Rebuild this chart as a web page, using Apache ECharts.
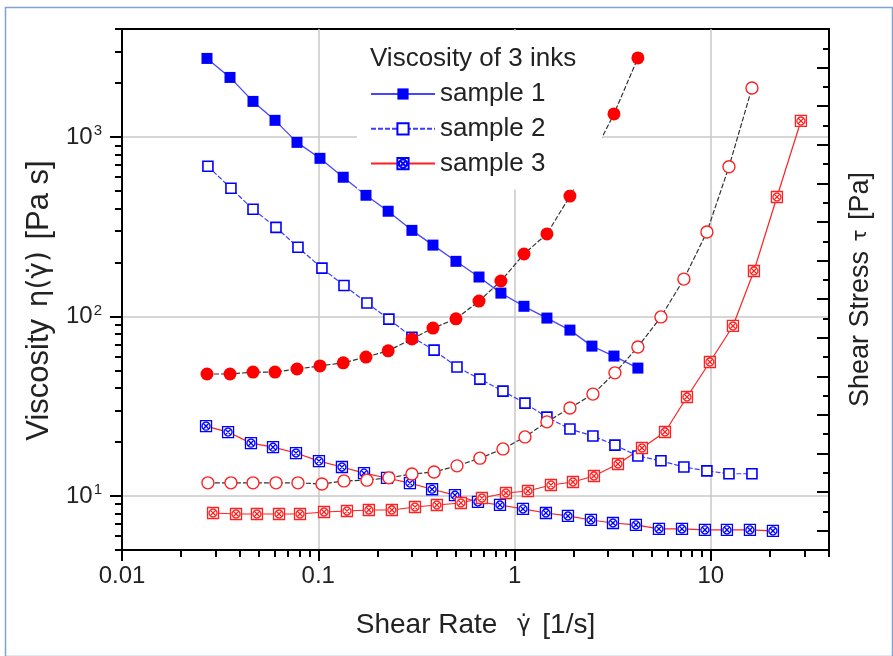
<!DOCTYPE html>
<html><head><meta charset="utf-8">
<script src="https://cdn.jsdelivr.net/npm/echarts@6/dist/echarts.min.js"></script>
<style>html,body{margin:0;padding:0;background:#fff}#c{width:893px;height:656px}</style>
</head><body><div id="c"></div><script>
const FONT = '"Liberation Sans", Arial, sans-serif';

// ---- data ----
const seriesNames = ['sample 1', 'sample 2', 'sample 3'];
const legendTitle = 'Viscosity of 3 inks';

const rate1   = [0.0271,0.0355,0.0465,0.0602,0.0779,0.102,0.134,0.175,0.227,0.300,0.384,0.503,0.659,0.852,1.117,1.462,1.915,2.479,3.21,4.25];
const visc1   = [2742,2149,1580,1239,934,761,597,474,386,302,250,203,166,135,114,98,84,68.4,60.2,51.6];
const stress1 = [456,456,461,461,469,477,485,500,516,547,575,599,645,697,767,819,917,1018,1130,1275];

const rate2   = [0.0274,0.0359,0.0465,0.0609,0.0788,0.1044,0.1352,0.177,0.229,0.300,0.389,0.509,0.666,0.873,1.130,1.462,1.915,2.508,3.247,4.25,5.57,7.29,9.55,12.37,16.2];
const visc2   = [687,518,396,314,243,186,149,119,96.7,76.7,65.0,52.3,44.8,38.4,32.9,27.5,23.6,21.6,19.2,16.7,15.7,14.5,13.8,13.3,13.3];
const stress2 = [174,174,174,174,174,171,179,181,187,197,202,218,238,262,293,332,368,404,459,526,604,702,824,993,1197];

const rate3v  = [0.0268,0.0347,0.0454,0.0588,0.0770,0.1008,0.132,0.171,0.224,0.293,0.380,0.497,0.651,0.843,1.104,1.445,1.871,2.450,3.172,4.153,5.44,7.13,9.33,12.08,15.82,20.72];
const visc3   = [24.5,22.7,19.7,18.7,17.35,15.65,14.5,13.4,12.6,11.8,10.9,10.1,9.26,8.91,8.47,8.04,7.74,7.35,7.07,6.90,6.55,6.55,6.47,6.47,6.47,6.39];
const rate3s  = [0.0291,0.0381,0.0487,0.0631,0.0807,0.107,0.140,0.181,0.237,0.311,0.402,0.533,0.682,0.904,1.170,1.532,1.984,2.538,3.364,4.457,5.84,7.56,9.89,12.96,16.58,21.72,28.77];
const stress3 = [95.9,93.3,93.3,93.3,93.3,98.5,101,103.7,103.7,111.4,116.6,121.8,134.7,147.7,152.9,168.4,176.2,191.8,222.9,264.3,305.8,396.5,487.2,580.5,723,914.7,1111.7];

// ---- ticks ----
const xMajorTicks = [0.01, 0.1, 1, 10];
const xMinorTicks = [0.02,0.03,0.04,0.05,0.06,0.07,0.08,0.09,0.2,0.3,0.4,0.5,0.6,0.7,0.8,0.9,2,3,4,5,6,7,8,9,20,30,40];
const yMajorTicks = [10, 100, 1000];
const yMinorTicks = [5,6,7,8,9,20,30,40,50,60,70,80,90,200,300,400,500,600,700,800,900,2000,3000,4000];
const rMajorTicks = [50,150,250,350,450,550,650,750,850,950,1050,1150,1250,1350];
const rMinorTicks = [100,200,300,400,500,600,700,800,900,1000,1100,1200,1300];

const zip = (a, b) => a.map((v, i) => [v, b[i]]);
const crossSq = 'path://M0,0L10,0L10,10L0,10Z M8.6,5A3.6,3.6,0,1,1,1.4,5A3.6,3.6,0,1,1,8.6,5Z M2.2,2.2L7.8,7.8 M7.8,2.2L2.2,7.8';

const chart = echarts.init(document.getElementById('c'), null, {renderer: 'canvas'});
const axisCol = '#000';
const txtCol = '#222';
const GREEK = '"DejaVu Sans", sans-serif';

chart.setOption({
  animation: false,
  backgroundColor: '#fff',
  textStyle: {fontFamily: FONT},
  graphic: [{
    type: 'rect', left: 3, top: 5, z: 100, silent: true,
    shape: {width: 887, height: 649},
    style: {fill: 'none', stroke: '#7fa2d6', lineWidth: 1.5}
  }],
  title: {
    text: legendTitle, left: 370, top: 46, padding: 0, z: 10,
    textStyle: {fontFamily: FONT, fontSize: 26, fontWeight: 'normal', color: txtCol}
  },
  legend: {
    data: seriesNames, orient: 'vertical', left: 357, top: 31,
    padding: [46, 57, 9, 13], itemWidth: 64, itemHeight: 14, itemGap: 0.8,
    backgroundColor: '#fff',
    textStyle: {fontFamily: FONT, fontSize: 26, lineHeight: 34, color: txtCol}
  },
  grid: {left: 122, right: 64, top: 29, bottom: 106, show: true, borderColor: axisCol, borderWidth: 2, backgroundColor: 'transparent'},
  xAxis: [{
    type: 'log', logBase: 10, min: 0.01, max: 40,
    name: 'Shear Rate  {g|γ̇} [1/s]', nameLocation: 'middle', nameGap: 61,
    nameTextStyle: {fontFamily: FONT, fontSize: 28, color: txtCol, rich: {g: {fontFamily: GREEK, fontSize: 23, color: txtCol, padding: [0, 4, 0, 4]}}},
    axisLine: {lineStyle: {color: axisCol, width: 2}},
    axisTick: {inside: false, length: 11, customValues: xMajorTicks, lineStyle: {color: axisCol, width: 2}},
    axisLabel: {customValues: xMajorTicks, fontFamily: FONT, fontSize: 24, color: txtCol, margin: 14, formatter: v => String(v)},
    splitLine: {show: true, lineStyle: {color: '#c8c8c8', width: 1.5}}
  }, {
    type: 'log', logBase: 10, min: 0.01, max: 40, position: 'bottom',
    axisLine: {show: false},
    axisTick: {inside: false, length: 7, customValues: xMinorTicks, lineStyle: {color: axisCol, width: 2}},
    axisLabel: {show: false}, splitLine: {show: false}
  }],
  yAxis: [{
    type: 'log', logBase: 10, min: 5, max: 4000, position: 'left',
    name: 'Viscosity {g|η(γ̇)} [Pa s]', nameLocation: 'middle', nameGap: 66, nameRotate: 90,
    nameTextStyle: {fontFamily: FONT, fontSize: 31, color: txtCol, padding: [0, 22, 0, 0],
      rich: {g: {fontFamily: GREEK, fontSize: 28, color: txtCol, padding: [0, 3, 0, 3]}}},
    axisLine: {lineStyle: {color: axisCol, width: 2}},
    axisTick: {inside: false, length: 12, customValues: yMajorTicks, lineStyle: {color: axisCol, width: 2}},
    axisLabel: {
      customValues: yMajorTicks, margin: 20, color: txtCol,
      formatter: v => '{b|10}{s|' + Math.round(Math.log10(v)) + '}',
      rich: {b: {fontFamily: FONT, fontSize: 24, color: txtCol}, s: {fontFamily: FONT, fontSize: 15, color: txtCol, verticalAlign: 'bottom', padding: [0, 0, 12, 1]}}
    },
    splitLine: {show: true, lineStyle: {color: '#c8c8c8', width: 1.5}}
  }, {
    type: 'log', logBase: 10, min: 5, max: 4000, position: 'left',
    axisLine: {show: false},
    axisTick: {inside: false, length: 7, customValues: yMinorTicks, lineStyle: {color: axisCol, width: 2}},
    axisLabel: {show: false}, splitLine: {show: false}
  }, {
    type: 'value', min: 0, max: 1350, position: 'right',
    name: 'Shear Stress {t|τ} [Pa]', nameLocation: 'middle', nameGap: 18, nameRotate: 90,
    nameTextStyle: {fontFamily: FONT, fontSize: 27, color: txtCol,
      rich: {t: {fontFamily: GREEK, fontSize: 20, color: txtCol, padding: [0, 2, 0, 2]}}},
    axisLine: {show: true, lineStyle: {color: axisCol, width: 2}},
    axisTick: {inside: true, length: 12, customValues: rMajorTicks, lineStyle: {color: axisCol, width: 2}},
    axisLabel: {show: false}, splitLine: {show: false}
  }, {
    type: 'value', min: 0, max: 1350, position: 'right',
    axisLine: {show: false},
    axisTick: {inside: true, length: 6, customValues: rMinorTicks, lineStyle: {color: axisCol, width: 2}},
    axisLabel: {show: false}, splitLine: {show: false}
  }],
  series: [
    {name: seriesNames[0], type: 'line', xAxisIndex: 0, yAxisIndex: 0, data: zip(rate1, visc1),
     symbol: 'rect', symbolSize: 11, itemStyle: {color: '#0000ff'},
     lineStyle: {color: '#4646ff', width: 1.3}},
    {name: seriesNames[1], type: 'line', xAxisIndex: 0, yAxisIndex: 0, data: zip(rate2, visc2),
     symbol: 'rect', symbolSize: 10, itemStyle: {color: '#fff', borderColor: '#0000ff', borderWidth: 1.6},
     lineStyle: {color: '#3c3cff', width: 1.2, type: [5, 2]}},
    {name: seriesNames[2], type: 'line', xAxisIndex: 0, yAxisIndex: 0, data: zip(rate3v, visc3),
     symbol: crossSq, symbolSize: 11, itemStyle: {color: '#fff', borderColor: '#0000ff', borderWidth: 1.3},
     lineStyle: {color: '#ff2020', width: 1.2}},
    {name: 'stress 1', type: 'line', xAxisIndex: 0, yAxisIndex: 2, data: zip(rate1, stress1),
     symbol: 'circle', symbolSize: 13, itemStyle: {color: '#ff0000'},
     lineStyle: {color: '#333', width: 1.2, type: [5, 2]}},
    {name: 'stress 2', type: 'line', xAxisIndex: 0, yAxisIndex: 2, data: zip(rate2, stress2),
     symbol: 'circle', symbolSize: 12, itemStyle: {color: '#fff', borderColor: '#ff2020', borderWidth: 1.4},
     lineStyle: {color: '#333', width: 1.2, type: [5, 2]}},
    {name: 'stress 3', type: 'line', xAxisIndex: 0, yAxisIndex: 2, data: zip(rate3s, stress3),
     symbol: crossSq, symbolSize: 11, itemStyle: {color: '#fff', borderColor: '#ff2020', borderWidth: 1.3},
     lineStyle: {color: '#ff2020', width: 1.2}}
  ]
});
</script></body></html>
